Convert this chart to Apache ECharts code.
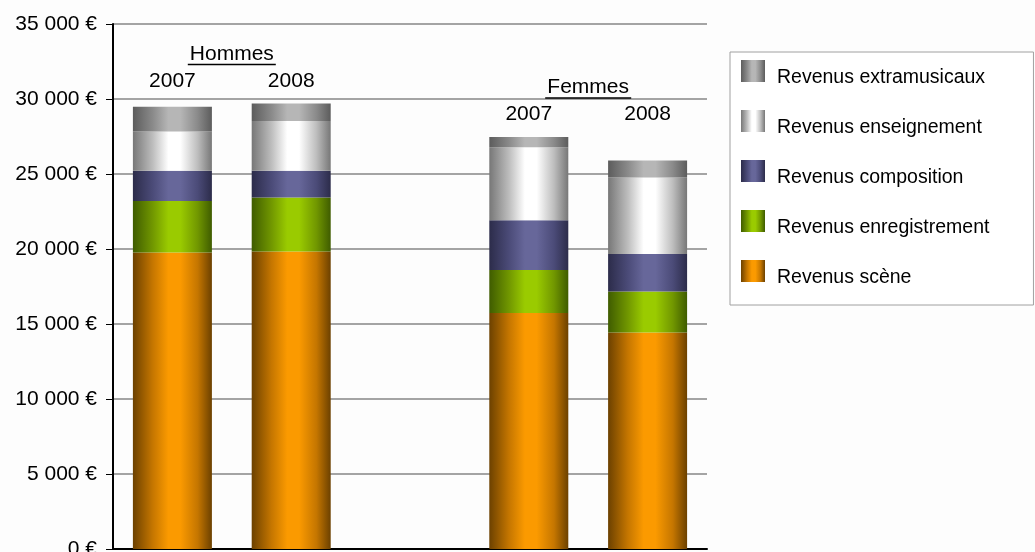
<!DOCTYPE html>
<html>
<head>
<meta charset="utf-8">
<script src="https://cdn.jsdelivr.net/npm/echarts@6/dist/echarts.min.js"></script>
<style>
  html, body { margin: 0; padding: 0; background: #fdfdfd; }
  #chart { width: 1035px; height: 552px; }
</style>
</head>
<body>
<div id="chart"></div>
<script>
// Groups and years shown along the horizontal axis
const groups = ['Hommes', 'Femmes'];
const years = ['2007', '2008'];

// Revenue per bar, in order: Hommes 2007, Hommes 2008, Femmes 2007, Femmes 2008
const revenusScene          = [19770, 19840, 15730, 14440];
const revenusEnregistrement = [3430, 3600, 2870, 2730];
const revenusComposition    = [2020, 1780, 3310, 2490];
const revenusEnseignement   = [2620, 3310, 4870, 5110];
const revenusExtramusicaux  = [1650, 1170, 690, 1130];

// Vertical axis range and step
const yMin = 0, yMax = 35000, yStep = 5000;

const FONT = "'Liberation Sans', Arial, sans-serif";

// Category slots: the years of each group, with an empty slot between groups
const categories = [];
const slotOf = [];            // slot index of each bar
groups.forEach((g, gi) => {
  if (gi > 0) categories.push('');
  years.forEach(y => { slotOf.push(categories.length); categories.push(g + ' ' + y); });
});
function toSlots(values) {
  const out = categories.map(() => '-');
  values.forEach((v, i) => { out[slotOf[i]] = v; });
  return out;
}

// Horizontal cylinder-like shading for each series
function shade(edge, mid, center) {
  return {
    type: 'linear', x: 0, y: 0, x2: 1, y2: 0,
    colorStops: [
      { offset: 0, color: edge },
      { offset: 0.25, color: mid },
      { offset: 0.45, color: center },
      { offset: 0.6, color: center },
      { offset: 0.82, color: mid },
      { offset: 1, color: edge }
    ]
  };
}

const seriesDefs = [
  { name: 'Revenus scène', values: revenusScene, color: shade('#6c4100', '#c57600', '#fb9a00') },
  { name: 'Revenus enregistrement', values: revenusEnregistrement, color: shade('#3f5c00', '#719700', '#9acb00') },
  { name: 'Revenus composition', values: revenusComposition, color: shade('#2c2c4a', '#4b4b78', '#67679a') },
  { name: 'Revenus enseignement', values: revenusEnseignement, color: shade('#777777', '#bdbdbd', '#ffffff') },
  { name: 'Revenus extramusicaux', values: revenusExtramusicaux, color: shade('#5c5c5c', '#8a8a8a', '#b6b6b6') }
];

// Totals per bar and tallest bar of each group (labels sit above it)
const totals = revenusScene.map((_, i) => seriesDefs.reduce((s, d) => s + d.values[i], 0));
const groupMax = groups.map((_, gi) => Math.max(...years.map((_, yi) => totals[gi * years.length + yi])));

const yearPoints = [];
groups.forEach((g, gi) => years.forEach((y, yi) => {
  yearPoints.push({ value: [slotOf[gi * years.length + yi], groupMax[gi]], year: y });
}));
const groupPoints = groups.map((g, gi) => {
  const first = slotOf[gi * years.length];
  const last = slotOf[gi * years.length + years.length - 1];
  return { value: [(first + last) / 2, groupMax[gi]], name: g };
});

// Width of the underline under each group name
const measureCtx = document.createElement('canvas').getContext('2d');
measureCtx.font = '21px ' + FONT;
function textWidth(t) { return Math.round(measureCtx.measureText(t).width) + 4; }

function fmtEuro(v) {
  return String(v).replace(/\B(?=(\d{3})+(?!\d))/g, ' ') + ' €';
}

const chart = echarts.init(document.getElementById('chart'), null, { renderer: 'canvas' });

const option = {
  backgroundColor: '#fdfdfd',
  animation: false,
  grid: { left: 113, right: 328, top: 24, bottom: 3, containLabel: false, outerBoundsMode: 'none' },
  legend: {
    orient: 'vertical',
    left: 730,
    top: 52,
    padding: [8, 44, 17, 11],
    itemWidth: 24,
    itemHeight: 22,
    itemGap: 22,
    icon: 'rect',
    borderColor: '#a0a0a0',
    borderWidth: 1,
    backgroundColor: '#ffffff',
    data: seriesDefs.map(d => d.name).reverse(),
    formatter: name => '{n|' + name + '}',
    textStyle: {
      fontFamily: FONT, fontSize: 19.5, color: '#000', padding: [0, 0, 0, 7],
      rich: {
        n: { fontFamily: FONT, fontSize: 19.5, color: '#000', lineHeight: 34, verticalAlign: 'bottom' }
      }
    },
    itemStyle: { borderWidth: 0 }
  },
  xAxis: [
    {
      type: 'category',
      data: categories,
      axisLine: { show: true, lineStyle: { color: '#000', width: 2 } },
      axisTick: { show: false },
      axisLabel: { show: false },
      splitLine: { show: false }
    },
    {
      type: 'value',
      min: -0.5,
      max: categories.length - 0.5,
      show: false
    }
  ],
  yAxis: {
    type: 'value',
    min: yMin,
    max: yMax,
    interval: yStep,
    axisLine: { show: true, onZero: false, lineStyle: { color: '#000', width: 2 } },
    axisTick: { show: true, length: 7, lineStyle: { color: '#000', width: 1 } },
    axisLabel: { margin: 16, fontFamily: FONT, fontSize: 21, color: '#000', formatter: fmtEuro },
    splitLine: { show: true, lineStyle: { color: '#a4a4a4', width: 2 } }
  },
  series: seriesDefs.map(d => ({
    name: d.name,
    type: 'bar',
    stack: 'revenus',
    barWidth: '66.5%',
    data: toSlots(d.values),
    itemStyle: { color: d.color, borderWidth: 0 }
  })).concat([
    {
      name: 'années',
      type: 'scatter',
      xAxisIndex: 1,
      symbolSize: 0,
      silent: true,
      data: yearPoints,
      label: {
        show: true,
        position: 'top',
        distance: 12,
        fontFamily: FONT,
        fontSize: 21,
        color: '#000',
        opacity: 1,
        formatter: p => p.data.year
      }
    },
    {
      name: 'groupes',
      type: 'scatter',
      xAxisIndex: 1,
      symbolSize: 0,
      silent: true,
      data: groupPoints.map(p => ({
        value: p.value,
        name: p.name,
        label: {
          rich: {
            t: { fontFamily: FONT, fontSize: 21, color: '#000', lineHeight: 19 },
            u: { width: textWidth(p.name), height: 1.5, lineHeight: 2, backgroundColor: '#000' }
          }
        }
      })),
      label: {
        show: true,
        position: 'top',
        distance: 38,
        align: 'center',
        color: '#000',
        opacity: 1,
        formatter: p => '{t|' + p.name + '}\n{u|}'
      }
    }
  ])
};

chart.setOption(option);
</script>
</body>
</html>
